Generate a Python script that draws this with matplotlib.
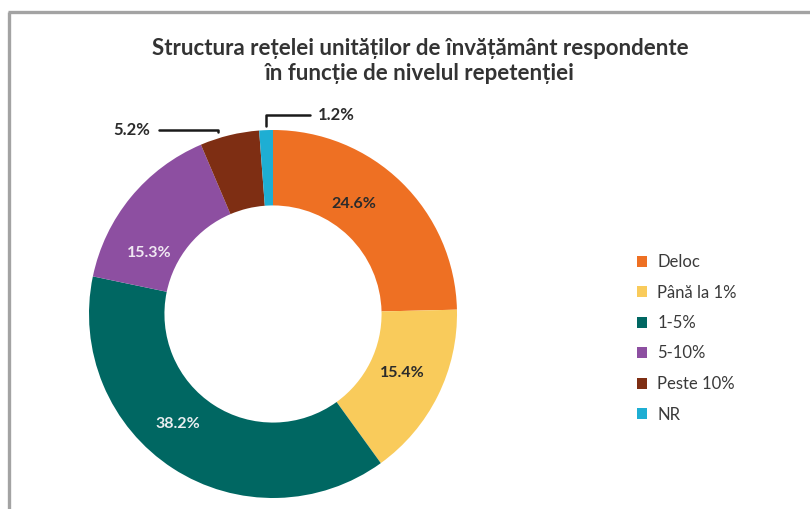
#!usr/bin/python

"""
Donut chart: Structura retelei unitatilor de invatamant respondente
in functie de nivelul repetentiei
"""

import matplotlib
matplotlib.use('Agg')
import matplotlib.pyplot as plt
import numpy as np
from matplotlib.lines import Line2D

# data
categories = ['Deloc', 'Până la 1%', '1-5%', '5-10%', 'Peste 10%', 'NR']
values = [24.6, 15.4, 38.2, 15.3, 5.2, 1.2]

# styles
colors = ['#EE7023', '#F9CB5B', '#006762', '#8D4FA1', '#7E2E13', '#1EAED3']
label_colors = ['#2b2b2b', '#2b2b2b', '#e9eef0', '#f0e8f2', '#2b2b2b', '#2b2b2b']
# label placement tweaks: (angle shift deg, radius)
label_nudge = [(8, 0.74), (2, 0.77), (-8, 0.79), (13, 0.75), (0, 1), (0, 1)]
title_txt = 'Structura rețelei unităților de învățământ respondente\nîn funcție de nivelul repetenției'

plt.rcParams['font.family'] = ['Lato', 'DejaVu Sans']


def main():
    fig = plt.figure(figsize=(8.1, 5.09), dpi=100)
    fig.patch.set_facecolor('white')

    # frame lines (top and left only)
    fig.add_artist(Line2D([9 / 810, 9 / 810], [0, 1 - 12 / 509], transform=fig.transFigure,
                          color='#a3a3a3', lw=2.4, solid_capstyle='butt'))
    fig.add_artist(Line2D([8 / 810, 1], [1 - 12 / 509, 1 - 12 / 509], transform=fig.transFigure,
                          color='#a3a3a3', lw=2.4, solid_capstyle='butt'))

    # donut: center (273, 314) px, radius 184 px
    cx, cy, r = 273, 314, 184
    ax = fig.add_axes([(cx - r) / 810, (509 - cy - r) / 509, 2 * r / 810, 2 * r / 509])
    wedges, _ = ax.pie(values, colors=colors, startangle=90, counterclock=False,
                       wedgeprops=dict(width=0.41, edgecolor='none'))
    ax.set_xlim(-1, 1)
    ax.set_ylim(-1, 1)
    ax.set_aspect('equal')
    ax.axis('off')

    # labels
    outer_text = {4: (-0.665, 1.0, 'right'), 5: (0.245, 1.08, 'left')}
    for i, (w, val) in enumerate(zip(wedges, values)):
        mid_deg = (w.theta1 + w.theta2) / 2
        txt = f'{val:.1f}%'
        if i in outer_text:
            mid = np.deg2rad(mid_deg)
            tx, ty, ha = outer_text[i]
            ax.annotate(txt, xy=(np.cos(mid) - 0.06 * (i == 4), np.sin(mid) + 0.02), xytext=(tx, ty),
                        ha=ha, va='center', fontsize=12, fontweight='bold',
                        color=label_colors[i], annotation_clip=False,
                        arrowprops=dict(arrowstyle='-', color='#1a1a1a', lw=1.8,
                                        shrinkA=4, shrinkB=0,
                                        connectionstyle='angle,angleA=0,angleB=90,rad=0'))
        else:
            shift, rad = label_nudge[i]
            ang = np.deg2rad(mid_deg + shift)
            ax.text(rad * np.cos(ang), rad * np.sin(ang), txt, ha='center', va='center',
                    fontsize=11.5, fontweight='bold', color=label_colors[i])

    # title
    fig.text(420 / 810, 1 - 61 / 509, title_txt, ha='center', va='center',
             fontsize=16, fontweight='bold', color='#333333', linespacing=1.25)

    # legend
    fig.legend(wedges, categories, loc='upper left', bbox_to_anchor=(637 / 810, 1 - 254 / 509),
               frameon=False, fontsize=12, handlelength=0.62, handleheight=0.62,
               handletextpad=0.6, labelspacing=0.87, borderpad=0, borderaxespad=0,
               labelcolor='#3a3a3a')

    fig.savefig('out.png', dpi=100, facecolor='white')


if __name__ == '__main__':
    main()
